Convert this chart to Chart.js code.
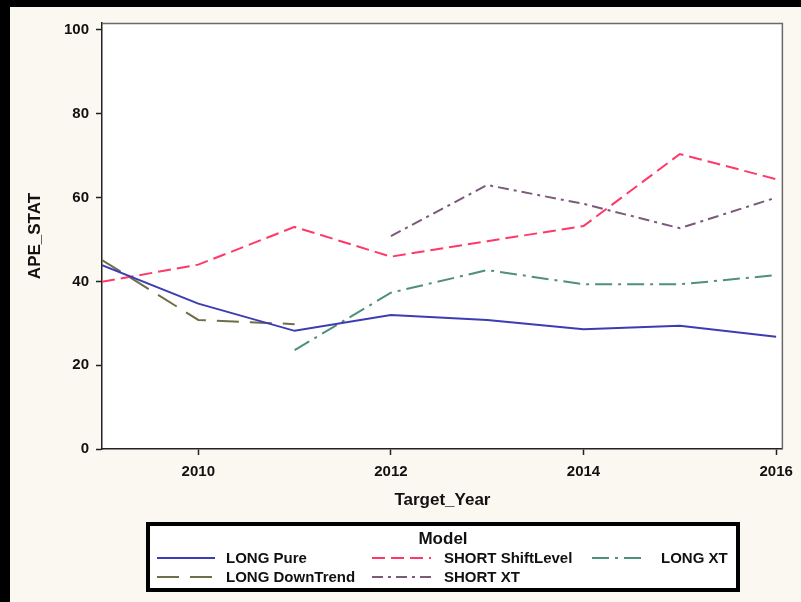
<!DOCTYPE html>
<html>
<head>
<meta charset="utf-8">
<script src="https://cdn.jsdelivr.net/npm/chart.js@4"></script>
<style>
  html, body { margin: 0; padding: 0; background: #faf8f0; }
  #wrap { width: 801px; height: 602px; }
</style>
</head>
<body>
<div id="wrap"><canvas id="c" width="801" height="602"></canvas></div>
<script>
// Target years on the x axis
const years = [2009, 2010, 2011, 2012, 2013, 2014, 2015, 2016];
const xTickValues = [2010, 2012, 2014, 2016];
const yTickValues = [0, 20, 40, 60, 80, 100];

// APE_STAT by model (null = no forecast for that year)
const longPure        = [43.9, 34.7, 28.2, 32.0, 30.8, 28.6, 29.4, 26.8];
const shortShiftLevel = [39.9, 44.0, 53.0, 45.9, 49.6, 53.2, 70.4, 64.4];
const longXT          = [null, null, 23.6, 37.3, 42.7, 39.3, 39.3, 41.5];
const longDownTrend   = [45.1, 30.8, 29.8, null, null, null, null, null];
const shortXT         = [null, null, null, 50.8, 63.0, 58.5, 52.7, 60.0];

const FONT = "'Liberation Sans', Arial, sans-serif";

function pts(vals) {
  return years.map((y, i) => ({ x: y, y: vals[i] }));
}

function series(label, vals, color, dash) {
  return {
    label: label,
    data: pts(vals),
    borderColor: color,
    backgroundColor: color,
    borderWidth: 2,
    borderDash: dash,
    pointRadius: 0,
    tension: 0,
    spanGaps: false,
    fill: false
  };
}

const datasets = [
  series('LONG Pure', longPure, '#3c3cb4', []),
  series('SHORT ShiftLevel', shortShiftLevel, '#ff3868', [13, 6]),
  series('LONG XT', longXT, '#4f8f7c', [17, 6, 3, 6]),
  series('LONG DownTrend', longDownTrend, '#6e6e48', [22, 11]),
  series('SHORT XT', shortXT, '#7c5a7a', [11, 5, 3, 5])
];

// Page frame, white plot panel and its top/right edges
const framePlugin = {
  id: 'frame',
  beforeDraw(chart) {
    const { ctx, chartArea: a } = chart;
    ctx.save();
    ctx.fillStyle = '#faf8f0';
    ctx.fillRect(0, 0, chart.width, chart.height);
    ctx.fillStyle = '#ffffff';
    ctx.fillRect(a.left, a.top, a.right - a.left, a.bottom - a.top);
    ctx.fillStyle = '#000000';
    ctx.fillRect(0, 0, chart.width, 7);
    ctx.fillRect(0, 0, 10, chart.height);
    ctx.restore();
  },
  beforeDatasetsDraw(chart) {
    const { ctx, chartArea: a } = chart;
    ctx.save();
    ctx.strokeStyle = '#6a6a6a';
    ctx.lineWidth = 1.5;
    ctx.beginPath();
    ctx.moveTo(a.left, a.top + 0.5);
    ctx.lineTo(a.right - 0.5, a.top + 0.5);
    ctx.lineTo(a.right - 0.5, a.bottom);
    ctx.stroke();
    ctx.restore();
  }
};

// Boxed "Model" legend under the plot, drawn from the dataset styles
const legendPlugin = {
  id: 'modelLegend',
  afterDraw(chart) {
    const { ctx } = chart;
    const box = { l: 148, t: 524, r: 738, b: 590 };
    ctx.save();
    ctx.fillStyle = '#ffffff';
    ctx.fillRect(box.l, box.t, box.r - box.l, box.b - box.t);
    ctx.strokeStyle = '#000000';
    ctx.lineWidth = 4;
    ctx.strokeRect(box.l, box.t, box.r - box.l, box.b - box.t);

    ctx.fillStyle = '#111111';
    ctx.textAlign = 'center';
    ctx.textBaseline = 'middle';
    ctx.font = 'bold 17px ' + FONT;
    ctx.fillText('Model', 443, 539);

    const slots = [
      { ds: 0, x0: 157, x1: 215, tx: 226, y: 558 },
      { ds: 1, x0: 372, x1: 431, tx: 444, y: 558 },
      { ds: 2, x0: 592, x1: 646, tx: 661, y: 558 },
      { ds: 3, x0: 157, x1: 215, tx: 226, y: 577 },
      { ds: 4, x0: 372, x1: 431, tx: 444, y: 577 }
    ];
    ctx.font = 'bold 15px ' + FONT;
    ctx.textAlign = 'left';
    slots.forEach(s => {
      const d = chart.data.datasets[s.ds];
      ctx.strokeStyle = d.borderColor;
      ctx.lineWidth = 2;
      ctx.setLineDash(d.borderDash || []);
      ctx.beginPath();
      ctx.moveTo(s.x0, s.y);
      ctx.lineTo(s.x1, s.y);
      ctx.stroke();
      ctx.setLineDash([]);
      ctx.fillStyle = '#111111';
      ctx.fillText(d.label, s.tx, s.y + 1);
    });
    ctx.restore();
  }
};

new Chart(document.getElementById('c'), {
  type: 'line',
  data: { datasets: datasets },
  options: {
    responsive: false,
    animation: false,
    layout: { padding: { left: 0, top: 23, right: 18, bottom: 0 } },
    plugins: {
      legend: { display: false },
      tooltip: { enabled: false },
      title: { display: false }
    },
    scales: {
      x: {
        type: 'linear',
        min: 2009,
        max: 2016.07,
        afterFit(scale) { scale.height = 153; },
        afterBuildTicks(scale) { scale.ticks = xTickValues.map(v => ({ value: v })); },
        grid: {
          drawOnChartArea: false,
          drawTicks: true,
          tickLength: 6,
          tickColor: '#222222',
          tickWidth: 1.5
        },
        border: { display: true, color: '#222222', width: 1.5 },
        ticks: {
          padding: 8,
          color: '#111111',
          font: { family: FONT, size: 15, weight: 'bold' },
          callback: v => String(v),
          maxRotation: 0,
          autoSkip: false
        },
        title: {
          display: true,
          text: 'Target_Year',
          color: '#111111',
          font: { family: FONT, size: 17, weight: 'bold' },
          padding: { top: 0, bottom: 91 }
        }
      },
      y: {
        min: 0,
        max: 101.67,
        afterFit(scale) { scale.width = 102; },
        afterBuildTicks(scale) { scale.ticks = yTickValues.map(v => ({ value: v })); },
        grid: {
          drawOnChartArea: false,
          drawTicks: true,
          tickLength: 6,
          tickColor: '#222222',
          tickWidth: 1.5
        },
        border: { display: true, color: '#222222', width: 1.5 },
        ticks: {
          padding: 7,
          color: '#111111',
          font: { family: FONT, size: 15, weight: 'bold' },
          callback: v => String(v)
        },
        title: {
          display: true,
          text: 'APE_STAT',
          color: '#111111',
          font: { family: FONT, size: 17, weight: 'bold' },
          padding: { top: 25, bottom: 0 }
        }
      }
    }
  },
  plugins: [framePlugin, legendPlugin]
});
</script>
</body>
</html>
